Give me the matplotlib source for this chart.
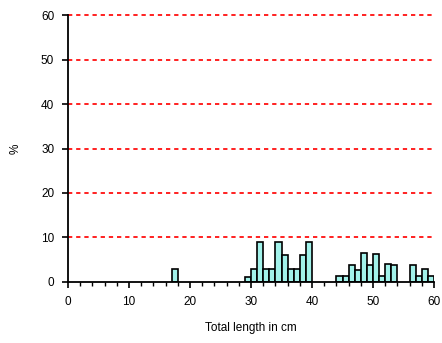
import matplotlib.pyplot as plt
from matplotlib.ticker import MultipleLocator

plt.rcParams['font.family'] = ['Liberation Sans', 'DejaVu Sans']

# left edge of each 1 cm length class and its share in %
bin_left = [17, 29, 30, 31, 32, 33, 34, 35, 36, 37, 38, 39,
            44, 45, 46, 47, 48, 49, 50, 51, 52, 53, 56, 57, 58, 59]
percent = [3.0, 1.2, 3.0, 9.0, 3.0, 3.0, 9.0, 6.0, 3.0, 3.0, 6.0, 9.0,
           1.3, 1.3, 3.9, 2.6, 6.6, 3.9, 6.3, 1.3, 4.1, 3.9, 3.9, 1.3, 3.0, 1.3]

fig = plt.figure(figsize=(4.42, 3.43), dpi=100)
ax = fig.add_axes([0.154, 0.178, 0.828, 0.778])

ax.bar(bin_left, percent, width=1.0, align='edge', color='#a2f2ea',
       edgecolor='black', linewidth=1.2, zorder=3)

ax.set_xlim(0, 60)
ax.set_ylim(0, 60)
ax.xaxis.set_major_locator(MultipleLocator(10))
ax.xaxis.set_minor_locator(MultipleLocator(2))
ax.yaxis.set_major_locator(MultipleLocator(10))

# dashed red gridlines, the top one sits on the axes edge so no clipping
for y in range(10, 61, 10):
    ax.axhline(y, color='#ff2020', linestyle=(0, (2.2, 2.0)), linewidth=1.4,
               zorder=1, clip_on=False)

for side in ('top', 'right'):
    ax.spines[side].set_visible(False)
for side in ('left', 'bottom'):
    ax.spines[side].set_linewidth(1.3)
    ax.spines[side].set_zorder(4)

ax.tick_params(axis='both', which='major', direction='out', length=4,
               width=1.2, labelsize=8.5, pad=6)
ax.tick_params(axis='x', which='minor', direction='out', length=3, width=1.0)

ax.set_xlabel('Total length in cm', fontsize=8.5, labelpad=10)
ax.set_ylabel('%', fontsize=8.5, labelpad=14)

fig.savefig('out.png', dpi=100)
